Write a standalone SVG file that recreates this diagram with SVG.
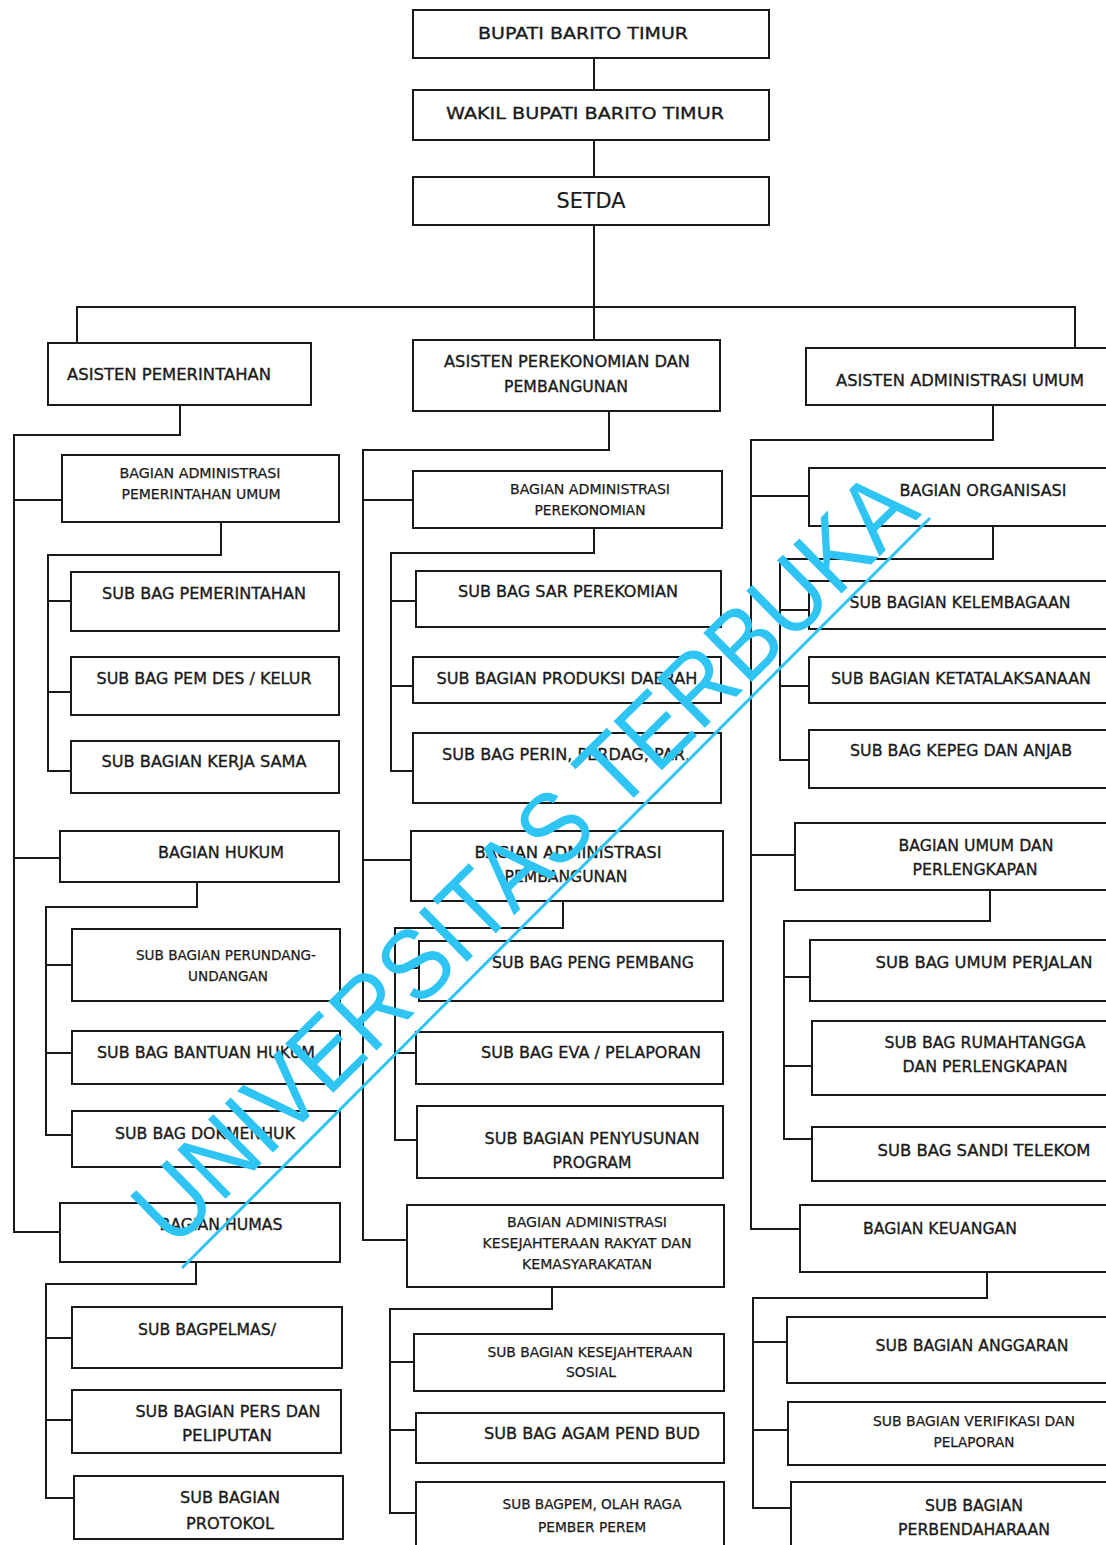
<svg xmlns="http://www.w3.org/2000/svg" width="1106" height="1545" viewBox="0 0 1106 1545">
<style>
.box{fill:#fff;stroke:#1a1a1a;stroke-width:2}
.c{fill:none;stroke:#1a1a1a;stroke-width:2}
.t{font-family:"DejaVu Sans",Verdana,sans-serif;font-size:16.5px;text-anchor:middle;fill:#1a1a1a;stroke:#1a1a1a;stroke-width:0.35}
.s{font-size:13.5px;stroke-width:0.25}
.wm{font-family:"Liberation Sans",Arial,sans-serif;font-size:100px;fill:#2ec4f3;text-anchor:middle}
</style>
<rect width="1106" height="1545" fill="#fff"/>
<g id="connectors">
<path class="c" d="M594 58V90M594 140V177M594 225V340M77 343V307H1075V348"/>
<path class="c" d="M180 405V435H14V1232H60M14 500H62M14 858H60"/>
<path class="c" d="M221 522V555H48V771H71M48 601H71M48 692H71"/>
<path class="c" d="M197 882V907H46V1135H72M46 965H72M46 1053H72"/>
<path class="c" d="M196 1262V1284H46V1498H74M46 1338H72M46 1420H72"/>
<path class="c" d="M609 411V450H363V1240H407M363 500H413M363 860H411"/>
<path class="c" d="M594 528V553H391V771H413M391 601H416M391 686H413"/>
<path class="c" d="M563 901V928H395V1140H417M395 968H419M395 1053H416"/>
<path class="c" d="M552 1287V1309H390V1513H416M390 1362H414M390 1430H416"/>
<path class="c" d="M993 405V440H751V1229H800M751 496H809M751 855H795"/>
<path class="c" d="M993 526V559H780V760H809M780 610H809M780 686H809"/>
<path class="c" d="M990 890V921H784V1139H812M784 977H810M784 1066H812"/>
<path class="c" d="M987 1272V1298H753V1508H791M753 1342H787M753 1430H788"/>
</g>
<g id="bupati"><rect class="box" x="413" y="10" width="356" height="48"/><text class="t" x="583" y="39" textLength="210" lengthAdjust="spacingAndGlyphs">BUPATI BARITO TIMUR</text></g>
<g id="wakil"><rect class="box" x="413" y="90" width="356" height="50"/><text class="t" x="585" y="119" textLength="278" lengthAdjust="spacingAndGlyphs">WAKIL BUPATI BARITO TIMUR</text></g>
<g id="setda"><rect class="box" x="413" y="177" width="356" height="48"/><text class="t" x="591" y="208" style="font-size:21px;stroke-width:0.2" textLength="69" lengthAdjust="spacingAndGlyphs">SETDA</text></g>
<g id="asisten-pem"><rect class="box" x="48" y="343" width="263" height="62"/><text class="t" x="169" y="380" textLength="204" lengthAdjust="spacingAndGlyphs">ASISTEN PEMERINTAHAN</text></g>
<g id="asisten-ekon"><rect class="box" x="413" y="340" width="307" height="71"/><text class="t" x="567" y="367" textLength="246" lengthAdjust="spacingAndGlyphs">ASISTEN PEREKONOMIAN DAN</text><text class="t" x="566" y="392" textLength="124" lengthAdjust="spacingAndGlyphs">PEMBANGUNAN</text></g>
<g id="asisten-adm"><rect class="box" x="806" y="348" width="310" height="57"/><text class="t" x="960" y="386" textLength="248" lengthAdjust="spacingAndGlyphs">ASISTEN ADMINISTRASI UMUM</text></g>

<g id="bag-adm-pem"><rect class="box" x="62" y="455" width="277" height="67"/><text class="t s" x="200" y="478" textLength="161" lengthAdjust="spacingAndGlyphs">BAGIAN ADMINISTRASI</text><text class="t s" x="201" y="499" textLength="159" lengthAdjust="spacingAndGlyphs">PEMERINTAHAN UMUM</text></g>
<g id="sb-pemerintahan"><rect class="box" x="71" y="572" width="268" height="59"/><text class="t" x="204" y="599" textLength="204" lengthAdjust="spacingAndGlyphs">SUB BAG PEMERINTAHAN</text></g>
<g id="sb-pemdes"><rect class="box" x="71" y="657" width="268" height="58"/><text class="t" x="204" y="684" textLength="215" lengthAdjust="spacingAndGlyphs">SUB BAG PEM DES / KELUR</text></g>
<g id="sb-kerjasama"><rect class="box" x="71" y="741" width="268" height="52"/><text class="t" x="204" y="767" textLength="205" lengthAdjust="spacingAndGlyphs">SUB BAGIAN KERJA SAMA</text></g>
<g id="bag-hukum"><rect class="box" x="60" y="831" width="279" height="51"/><text class="t" x="221" y="858" textLength="126" lengthAdjust="spacingAndGlyphs">BAGIAN HUKUM</text></g>
<g id="sb-perundang"><rect class="box" x="72" y="929" width="268" height="72"/><text class="t s" x="226" y="960" textLength="180" lengthAdjust="spacingAndGlyphs">SUB BAGIAN PERUNDANG-</text><text class="t s" x="228" y="981" textLength="80" lengthAdjust="spacingAndGlyphs">UNDANGAN</text></g>
<g id="sb-bantuan"><rect class="box" x="72" y="1031" width="268" height="53"/><text class="t" x="206" y="1058" textLength="218" lengthAdjust="spacingAndGlyphs">SUB BAG BANTUAN HUKUM</text></g>
<g id="sb-dokmenhuk"><rect class="box" x="72" y="1111" width="268" height="56"/><text class="t" x="205" y="1139" textLength="180" lengthAdjust="spacingAndGlyphs">SUB BAG DOKMENHUK</text></g>
<g id="bag-humas"><rect class="box" x="60" y="1203" width="280" height="59"/><text class="t" x="221" y="1230" textLength="123" lengthAdjust="spacingAndGlyphs">BAGIAN HUMAS</text></g>
<g id="sb-pelmas"><rect class="box" x="72" y="1307" width="270" height="61"/><text class="t" x="207" y="1335" textLength="138" lengthAdjust="spacingAndGlyphs">SUB BAGPELMAS/</text></g>
<g id="sb-pers"><rect class="box" x="72" y="1390" width="269" height="63"/><text class="t" x="228" y="1417" textLength="185" lengthAdjust="spacingAndGlyphs">SUB BAGIAN PERS DAN</text><text class="t" x="227" y="1441" textLength="90" lengthAdjust="spacingAndGlyphs">PELIPUTAN</text></g>
<g id="sb-protokol"><rect class="box" x="74" y="1476" width="269" height="63"/><text class="t" x="230" y="1503" textLength="100" lengthAdjust="spacingAndGlyphs">SUB BAGIAN</text><text class="t" x="230" y="1529" textLength="88" lengthAdjust="spacingAndGlyphs">PROTOKOL</text></g>

<g id="bag-adm-ekon"><rect class="box" x="413" y="471" width="309" height="57"/><text class="t s" x="590" y="494" textLength="160" lengthAdjust="spacingAndGlyphs">BAGIAN ADMINISTRASI</text><text class="t s" x="590" y="515" textLength="111" lengthAdjust="spacingAndGlyphs">PEREKONOMIAN</text></g>
<g id="sb-sar"><rect class="box" x="416" y="571" width="305" height="56"/><text class="t" x="568" y="597" textLength="220" lengthAdjust="spacingAndGlyphs">SUB BAG SAR PEREKOMIAN</text></g>
<g id="sb-produksi"><rect class="box" x="413" y="657" width="308" height="46"/><text class="t" x="567" y="684" textLength="261" lengthAdjust="spacingAndGlyphs">SUB BAGIAN PRODUKSI DAERAH</text></g>
<g id="sb-perin"><rect class="box" x="413" y="733" width="308" height="70"/><text class="t" x="566" y="760" textLength="248" lengthAdjust="spacingAndGlyphs">SUB BAG PERIN, PERDAG, PAR,</text></g>
<g id="bag-adm-pemb"><rect class="box" x="411" y="831" width="312" height="70"/><text class="t" x="568" y="858" textLength="187" lengthAdjust="spacingAndGlyphs">BAGIAN ADMINISTRASI</text><text class="t" x="566" y="882" textLength="123" lengthAdjust="spacingAndGlyphs">PEMBANGUNAN</text></g>
<g id="sb-peng"><rect class="box" x="419" y="941" width="304" height="60"/><text class="t" x="593" y="968" textLength="202" lengthAdjust="spacingAndGlyphs">SUB BAG PENG PEMBANG</text></g>
<g id="sb-eva"><rect class="box" x="416" y="1032" width="307" height="52"/><text class="t" x="591" y="1058" textLength="220" lengthAdjust="spacingAndGlyphs">SUB BAG EVA / PELAPORAN</text></g>
<g id="sb-penyusunan"><rect class="box" x="417" y="1106" width="306" height="72"/><text class="t" x="592" y="1144" textLength="215" lengthAdjust="spacingAndGlyphs">SUB BAGIAN PENYUSUNAN</text><text class="t" x="592" y="1168" textLength="79" lengthAdjust="spacingAndGlyphs">PROGRAM</text></g>
<g id="bag-kesra"><rect class="box" x="407" y="1205" width="317" height="82"/><text class="t s" x="587" y="1227" textLength="160" lengthAdjust="spacingAndGlyphs">BAGIAN ADMINISTRASI</text><text class="t s" x="587" y="1248" textLength="209" lengthAdjust="spacingAndGlyphs">KESEJAHTERAAN RAKYAT DAN</text><text class="t s" x="587" y="1269" textLength="130" lengthAdjust="spacingAndGlyphs">KEMASYARAKATAN</text></g>
<g id="sb-kessos"><rect class="box" x="414" y="1334" width="310" height="57"/><text class="t s" x="590" y="1357" textLength="205" lengthAdjust="spacingAndGlyphs">SUB BAGIAN KESEJAHTERAAN</text><text class="t s" x="591" y="1377" textLength="50" lengthAdjust="spacingAndGlyphs">SOSIAL</text></g>
<g id="sb-agam"><rect class="box" x="416" y="1413" width="308" height="50"/><text class="t" x="592" y="1439" textLength="216" lengthAdjust="spacingAndGlyphs">SUB BAG AGAM  PEND BUD</text></g>
<g id="sb-bagpem"><rect class="box" x="416" y="1482" width="308" height="70"/><text class="t s" x="592" y="1509" textLength="179" lengthAdjust="spacingAndGlyphs">SUB BAGPEM, OLAH RAGA</text><text class="t s" x="592" y="1532" textLength="108" lengthAdjust="spacingAndGlyphs">PEMBER PEREM</text></g>

<g id="bag-organisasi"><rect class="box" x="809" y="468" width="310" height="58"/><text class="t" x="983" y="496" textLength="167" lengthAdjust="spacingAndGlyphs">BAGIAN ORGANISASI</text></g>
<g id="sb-kelembagaan"><rect class="box" x="809" y="581" width="310" height="48"/><text class="t" x="960" y="608" textLength="221" lengthAdjust="spacingAndGlyphs">SUB BAGIAN KELEMBAGAAN</text></g>
<g id="sb-ketatalaksanaan"><rect class="box" x="809" y="657" width="310" height="46"/><text class="t" x="961" y="684" textLength="260" lengthAdjust="spacingAndGlyphs">SUB BAGIAN KETATALAKSANAAN</text></g>
<g id="sb-kepeg"><rect class="box" x="809" y="730" width="310" height="58"/><text class="t" x="961" y="756" textLength="222" lengthAdjust="spacingAndGlyphs">SUB BAG KEPEG DAN ANJAB</text></g>
<g id="bag-umum"><rect class="box" x="795" y="823" width="324" height="67"/><text class="t" x="976" y="851" textLength="155" lengthAdjust="spacingAndGlyphs">BAGIAN UMUM DAN</text><text class="t" x="975" y="875" textLength="125" lengthAdjust="spacingAndGlyphs">PERLENGKAPAN</text></g>
<g id="sb-umum"><rect class="box" x="810" y="940" width="309" height="61"/><text class="t" x="984" y="968" textLength="217" lengthAdjust="spacingAndGlyphs">SUB BAG UMUM  PERJALAN</text></g>
<g id="sb-rumahtangga"><rect class="box" x="812" y="1021" width="307" height="74"/><text class="t" x="985" y="1048" textLength="201" lengthAdjust="spacingAndGlyphs">SUB BAG RUMAHTANGGA</text><text class="t" x="985" y="1072" textLength="165" lengthAdjust="spacingAndGlyphs">DAN PERLENGKAPAN</text></g>
<g id="sb-sandi"><rect class="box" x="812" y="1127" width="307" height="54"/><text class="t" x="984" y="1156" textLength="213" lengthAdjust="spacingAndGlyphs">SUB BAG SANDI  TELEKOM</text></g>
<g id="bag-keuangan"><rect class="box" x="800" y="1205" width="319" height="67"/><text class="t" x="940" y="1234" textLength="154" lengthAdjust="spacingAndGlyphs">BAGIAN KEUANGAN</text></g>
<g id="sb-anggaran"><rect class="box" x="787" y="1317" width="332" height="66"/><text class="t" x="972" y="1351" textLength="193" lengthAdjust="spacingAndGlyphs">SUB BAGIAN ANGGARAN</text></g>
<g id="sb-verifikasi"><rect class="box" x="788" y="1402" width="331" height="63"/><text class="t s" x="974" y="1426" textLength="202" lengthAdjust="spacingAndGlyphs">SUB BAGIAN VERIFIKASI DAN</text><text class="t s" x="974" y="1447" textLength="81" lengthAdjust="spacingAndGlyphs">PELAPORAN</text></g>
<g id="sb-perbendaharaan"><rect class="box" x="791" y="1482" width="328" height="70"/><text class="t" x="974" y="1511" textLength="98" lengthAdjust="spacingAndGlyphs">SUB BAGIAN</text><text class="t" x="974" y="1535" textLength="152" lengthAdjust="spacingAndGlyphs">PERBENDAHARAAN</text></g>

<g id="watermark">
<text class="wm" transform="translate(548,882) rotate(-44.5)" x="0" y="0" textLength="1050" lengthAdjust="spacingAndGlyphs">UNIVERSITAS TERBUKA</text>
<line x1="182" y1="1268" x2="930" y2="518" stroke="#2ec4f3" stroke-width="3"/>
</g>
</svg>
